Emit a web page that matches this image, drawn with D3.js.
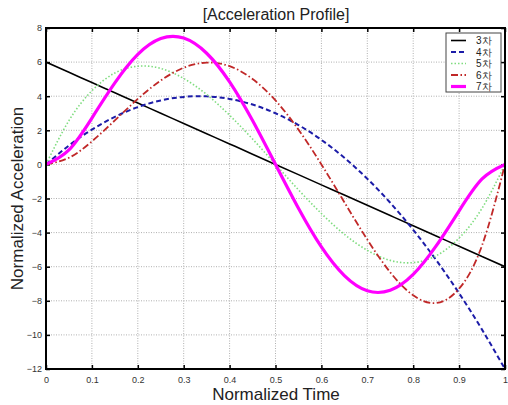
<!DOCTYPE html>
<html>
<head>
<meta charset="utf-8">
<script src="https://cdn.jsdelivr.net/npm/d3@7"></script>
<style>
  body { margin: 0; background: #fff; }
  svg text { font-family: "Liberation Sans", Arial, sans-serif; }
</style>
</head>
<body>
<div id="chart"></div>
<script>
// normalized time samples
var times = [0, 0.05, 0.1, 0.15, 0.2, 0.25, 0.3, 0.35, 0.4, 0.45, 0.5,
             0.55, 0.6, 0.65, 0.7, 0.75, 0.8, 0.85, 0.9, 0.95, 1];

var acc3 = [6, 5.4, 4.8, 4.2, 3.6, 3, 2.4, 1.8, 1.2, 0.6, 0,
            -0.6, -1.2, -1.8, -2.4, -3, -3.6, -4.2, -4.8, -5.4, -6];
var acc4 = [0, 1.11, 2.04, 2.79, 3.36, 3.75, 3.96, 3.99, 3.84, 3.51, 3,
            2.31, 1.44, 0.39, -0.84, -2.25, -3.84, -5.61, -7.56, -9.69, -12];
var acc5 = [0, 2.57, 4.32, 5.36, 5.76, 5.63, 5.04, 4.1, 2.88, 1.49, 0,
            -1.49, -2.88, -4.1, -5.04, -5.63, -5.76, -5.36, -4.32, -2.57, 0];
var acc6 = [0, 0.39, 1.35, 2.58, 3.84, 4.92, 5.67, 5.97, 5.76, 5.01, 3.75,
            2.04, 0, -2.22, -4.41, -6.33, -7.68, -8.13, -7.29, -4.75, 0];
var acc7 = [0, 0.85, 2.72, 4.78, 6.45, 7.38, 7.41, 6.52, 4.84, 2.57, 0,
            -2.57, -4.84, -6.52, -7.41, -7.38, -6.45, -4.78, -2.72, -0.85, 0];

var seriesNames = ["3차", "4차", "5차", "6차", "7차"];
var seriesData = [acc3, acc4, acc5, acc6, acc7];

var xTicks = [0, 0.1, 0.2, 0.3, 0.4, 0.5, 0.6, 0.7, 0.8, 0.9, 1];
var yTicks = [8, 6, 4, 2, 0, -2, -4, -6, -8, -10, -12];

var styles = [
    { color: "#000000", width: 1.6, dash: null },
    { color: "#1c1ca8", width: 2, dash: "5,3" },
    { color: "#7fdc7f", width: 1.6, dash: "1.5,2" },
    { color: "#c02828", width: 1.8, dash: "7,2.5,1.5,2.5" },
    { color: "#ff00ff", width: 3.2, dash: null }
];

var W = 508, H = 405;
var pL = 46, pR = 505, pT = 28, pB = 369;

var svg = d3.select("#chart").append("svg").attr("width", W).attr("height", H);

var x = d3.scaleLinear().domain([0, 1]).range([pL, pR]);
var y = d3.scaleLinear().domain([-12, 8]).range([pB, pT]);

// grid
var grid = svg.append("g").attr("class", "grid");
grid.selectAll("line.gx")
    .data(xTicks.slice(1, -1)).enter().append("line")
    .attr("x1", function (d) { return x(d); })
    .attr("x2", function (d) { return x(d); })
    .attr("y1", pT).attr("y2", pB)
    .attr("stroke", "#b0b0b0").attr("stroke-width", 1)
    .attr("stroke-dasharray", "1,1.5");
grid.selectAll("line.gy")
    .data(yTicks.slice(1, -1)).enter().append("line")
    .attr("y1", function (d) { return y(d); })
    .attr("y2", function (d) { return y(d); })
    .attr("x1", pL).attr("x2", pR)
    .attr("stroke", "#b0b0b0").attr("stroke-width", 1)
    .attr("stroke-dasharray", "1,1.5");

// axes (ticks inward on all sides)
function styleAxis(g) {
    g.select(".domain").remove();
    g.selectAll(".tick line").attr("stroke", "#000").attr("stroke-width", 1.5);
    g.selectAll(".tick text").attr("fill", "#333").style("font-size", "9px");
}
svg.append("g").attr("transform", "translate(0," + pB + ")")
    .call(d3.axisBottom(x).tickValues(xTicks).tickSize(-4).tickPadding(8).tickFormat(d3.format("~g")))
    .call(styleAxis);
svg.append("g").attr("transform", "translate(0," + pT + ")")
    .call(d3.axisTop(x).tickValues(xTicks).tickSize(-4).tickFormat(""))
    .call(styleAxis);
svg.append("g").attr("transform", "translate(" + pL + ",0)")
    .call(d3.axisLeft(y).tickValues(yTicks).tickSize(-4).tickPadding(4))
    .call(styleAxis);
svg.append("g").attr("transform", "translate(" + pR + ",0)")
    .call(d3.axisRight(y).tickValues(yTicks).tickSize(-4).tickFormat(""))
    .call(styleAxis);

// curves
svg.append("clipPath").attr("id", "clip").append("rect")
    .attr("x", pL).attr("y", pT).attr("width", pR - pL).attr("height", pB - pT);

var line = d3.line()
    .x(function (d, i) { return x(times[i]); })
    .y(function (d) { return y(d); })
    .curve(d3.curveNatural);

svg.append("g").attr("clip-path", "url(#clip)")
    .selectAll("path")
    .data(seriesData).enter().append("path")
    .attr("d", line)
    .attr("fill", "none")
    .attr("stroke", function (d, i) { return styles[i].color; })
    .attr("stroke-width", function (d, i) { return styles[i].width; })
    .attr("stroke-dasharray", function (d, i) { return styles[i].dash; });

// frame
svg.append("rect")
    .attr("x", pL).attr("y", pT)
    .attr("width", pR - pL).attr("height", pB - pT)
    .attr("fill", "none").attr("stroke", "#000").attr("stroke-width", 2);

// legend
var lg = svg.append("g").attr("transform", "translate(446,33)");
lg.append("rect").attr("width", 55).attr("height", 59)
    .attr("fill", "#fff").attr("stroke", "#444").attr("stroke-width", 1);
var items = lg.selectAll("g.item")
    .data(seriesNames).enter().append("g")
    .attr("transform", function (d, i) { return "translate(0," + (7.5 + i * 11.5) + ")"; });
items.append("line")
    .attr("x1", 5).attr("x2", 20).attr("y1", 0).attr("y2", 0)
    .attr("stroke", function (d, i) { return styles[i].color; })
    .attr("stroke-width", function (d, i) { return styles[i].width; })
    .attr("stroke-dasharray", function (d, i) { return styles[i].dash; });
items.append("text")
    .attr("x", 30).attr("y", 3.5)
    .style("font-size", "10px").attr("fill", "#222")
    .text(function (d) { return d; });

// titles
svg.append("text").attr("x", 276).attr("y", 20)
    .attr("text-anchor", "middle").style("font-size", "16px").attr("fill", "#222")
    .text("[Acceleration Profile]");
svg.append("text").attr("x", 276).attr("y", 400)
    .attr("text-anchor", "middle").style("font-size", "17px").attr("fill", "#222")
    .text("Normalized Time");
svg.append("text")
    .attr("transform", "translate(23," + ((pT + pB) / 2) + ") rotate(-90)")
    .attr("text-anchor", "middle").style("font-size", "17px").attr("fill", "#222")
    .text("Normalized Acceleration");
</script>
</body>
</html>
